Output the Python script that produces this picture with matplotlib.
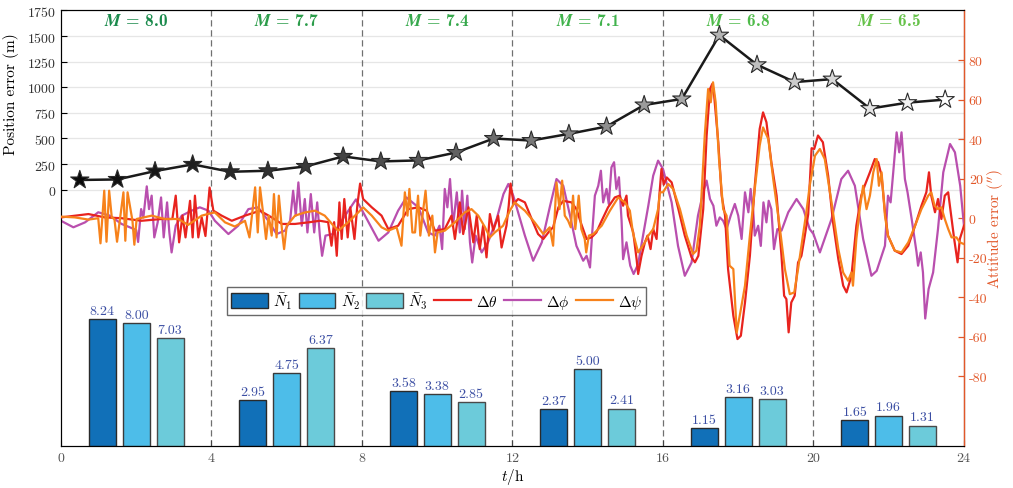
import numpy as np
import matplotlib
matplotlib.use('Agg')
import matplotlib.pyplot as plt
from matplotlib.patches import Patch
from matplotlib.lines import Line2D

plt.rcParams['font.family'] = 'serif'
plt.rcParams['font.serif'] = ['cmr10', 'DejaVu Serif']
plt.rcParams['mathtext.fontset'] = 'cm'
plt.rcParams['axes.unicode_minus'] = False
plt.rcParams['axes.formatter.use_mathtext'] = True

# position error (stars), one point per hour
t_star = np.arange(0.5, 24, 1.0)
pos_err = [95, 100, 182, 247, 175, 185, 227, 325, 276, 286, 363, 500,
           480, 545, 617, 827, 886, 1509, 1220, 1051, 1080, 792, 850, 880]

# mean counts per magnitude group
groups = [2, 6, 10, 14, 18, 22]
mags = ['8.0', '7.7', '7.4', '7.1', '6.8', '6.5']
N1 = [8.24, 2.95, 3.58, 2.37, 1.15, 1.65]
N2 = [8.00, 4.75, 3.38, 5.00, 3.16, 1.96]
N3 = [7.03, 6.37, 2.85, 2.41, 3.03, 1.31]

# attitude errors (arcsec)
theta_pts = [
    (0, 0.4), (0.73, 2.1), (1.17, 0.4), (1.61, 0), (2.14, -1.3), (2.67, -0.4), (2.96, -0.4),
    (3.05, 11.4), (3.14, -12.2), (3.23, 1.3), (3.31, -9.7), (3.43, 8.8), (3.50, -9.7),
    (3.56, 11.4), (3.65, -9.7), (3.74, 0.4), (3.84, -9.0), (3.95, 15.5), (4.05, 3.8),
    (4.27, 1.3), (4.54, -1.3), (4.89, 1.3), (5.29, 3.8), (5.60, 0.4), (5.87, -2.9),
    (6.22, -2.9), (6.57, -2.1), (6.88, -1.3), (7.10, -2.0), (7.19, -13.9), (7.26, -2.0),
    (7.33, -19.0), (7.40, 8.0), (7.46, -10.5), (7.53, 9.7), (7.62, -9.7), (7.69, 5.5),
    (7.80, -10.5), (7.88, 7.2), (7.95, 17.5), (8.03, 9.7), (8.26, 5.5), (8.52, 1.3),
    (8.70, -5.5), (8.96, -3.8), (9.23, 4.6), (9.50, 5.5), (9.72, 3.8), (9.94, -6.3),
    (10.20, -5.5), (10.38, 1.3), (10.47, -10.5), (10.60, 8.0), (10.69, -8.0), (10.83, 5.5),
    (10.96, -12.2), (11.05, 1.3), (11.13, -15.6), (11.22, -3.8), (11.31, -19.8), (11.40, 2.1),
    (11.49, -6.3), (11.62, 1.3), (11.71, -14.8), (11.84, -3.8), (11.90, 6.3), (11.95, 17.5),
    (12.03, 7.2), (12.15, 9.7), (12.33, 8.0), (12.51, -0.4), (12.68, -8.0), (12.82, -10.5),
    (12.99, -6.3), (13.08, -4.6), (13.22, 5.5), (13.35, 8.8), (13.57, 8.0), (13.70, 4.6),
    (13.83, -3.0), (13.97, -10.5), (14.10, -9.7), (14.23, -7.2), (14.37, -1.3), (14.54, 5.5),
    (14.72, 10.5), (14.85, 11.4), (14.94, 6.3), (15.03, 11.4), (15.07, 1.3), (15.21, -7.2),
    (15.30, -20.9), (15.34, -28.2), (15.43, -19.0), (15.52, -12.2), (15.59, -8.8),
    (15.67, -15.6), (15.74, -5.5), (15.83, -10.5), (15.90, 10.5), (15.96, 24.9), (16.02, 17.0),
    (16.10, 20.6), (16.23, 18.1), (16.41, 4.6), (16.58, -8.8), (16.76, -19.8), (16.85, -22.3),
    (16.94, -19.0), (17.07, 4.6), (17.16, 41.7), (17.25, 65.3), (17.31, 67.9), (17.36, 62.0),
    (17.47, 38.4), (17.56, 11.4), (17.65, 1.3), (17.73, -25.7), (17.87, -49.3), (17.98, -61.1),
    (18.07, -59.4), (18.18, -42.6), (18.31, -19.0), (18.44, 16.4), (18.57, 45.1), (18.66, 53.5),
    (18.75, 48.5), (18.88, 28.3), (19.02, 11.4), (19.15, -19.0), (19.22, -39.2), (19.28, -40.9),
    (19.34, -57.7), (19.41, -42.6), (19.50, -39.2), (19.59, -22.4), (19.68, -19.0),
    (19.77, -8.8), (19.86, 2.0), (19.95, 35.4), (20.02, 35.0), (20.12, 41.8), (20.25, 38.4),
    (20.39, 21.5), (20.52, -2.1), (20.66, -20.6), (20.79, -34.1), (20.88, -37.5), (21.01, -29.1),
    (21.14, -3.8), (21.27, 11.4), (21.36, 16.4), (21.50, 23.2), (21.63, 29.9), (21.72, 28.3),
    (21.81, 21.5), (21.90, 3.0), (21.98, -8.8), (22.16, -16.4), (22.34, -18.1), (22.52, -13.9),
    (22.70, -3.8), (22.87, 6.3), (23.00, 13.1), (23.07, 23.2), (23.13, 11.4), (23.23, 3.0),
    (23.31, 9.7), (23.40, -0.4), (23.49, 11.4), (23.58, 13.1), (23.67, -0.4), (23.74, -10.5),
    (23.83, -22.3), (23.89, -10.5), (24.0, -3.8)]

phi_pts = [
    (0, -1.3), (0.33, -4.6), (0.64, -2.1), (0.99, 3.0), (1.30, 1.3), (1.61, -2.9), (1.83, -4.6),
    (2.0, -6.0), (2.05, -12.0), (2.13, 4.6), (2.19, 0.4), (2.28, 16.1), (2.34, 4.6), (2.41, 11.4),
    (2.48, -9.7), (2.57, -2.1), (2.66, 10.5), (2.73, -9.7), (2.82, 8.0), (2.88, -7.2),
    (2.94, -17.3), (3.05, -3.8), (3.21, 1.3), (3.47, 3.8), (3.69, 5.5), (3.92, 3.8), (4.09, -1.3),
    (4.45, -8.0), (4.71, -3.8), (4.98, 4.6), (5.24, 5.5), (5.51, -1.3), (5.73, -8.0), (5.95, -6.3),
    (6.09, -1.3), (6.17, 13.9), (6.24, 1.3), (6.31, 18.1), (6.40, -3.8), (6.48, 9.7), (6.55, -7.2),
    (6.64, 12.2), (6.73, -7.2), (6.81, 8.0), (6.88, -8.8), (6.94, -19.0), (7.03, -8.8),
    (7.23, -8.0), (7.55, 1.3), (7.84, 9.5), (8.08, 1.3), (8.44, -11.4), (8.70, -7.2), (8.96, 3.8),
    (9.18, 10.5), (9.50, 5.5), (9.76, -7.2), (9.94, -8.8), (10.06, -3.8), (10.13, -15.6),
    (10.20, 14.8), (10.27, 5.5), (10.34, 19.8), (10.42, -3.8), (10.52, 13.1), (10.60, -7.2),
    (10.66, 13.9), (10.73, -5.5), (10.80, 11.4), (10.87, -12.2), (10.93, -22.4), (11.02, -8.8),
    (11.18, -17.3), (11.35, -12.2), (11.58, -0.4), (11.76, 12.2), (11.89, 17.3), (12.02, 11.4),
    (12.33, -8.8), (12.55, -21.5), (12.78, -12.2), (13.0, 6.3), (13.17, 19.8), (13.35, 16.4),
    (13.53, 1.3), (13.70, -14.0), (13.88, -21.5), (13.97, -19.0), (14.06, -24.9), (14.12, -7.2),
    (14.19, 11.4), (14.28, 16.4), (14.35, 24.0), (14.41, 8.0), (14.50, 14.8), (14.56, 7.2),
    (14.63, 25.7), (14.70, 28.3), (14.76, 14.8), (14.83, 20.7), (14.90, -1.3), (14.94, -20.7),
    (15.03, -12.2), (15.13, -24.0), (15.22, -28.2), (15.34, -23.2), (15.47, -8.8), (15.61, 6.3),
    (15.74, 21.5), (15.87, 29.1), (16.0, 24.9), (16.23, 8.0), (16.40, -14.0), (16.58, -29.1),
    (16.76, -22.4), (16.93, 1.3), (17.07, 13.1), (17.16, 19.0), (17.25, 9.7), (17.34, 6.3),
    (17.42, -3.8), (17.51, 0.4), (17.60, -1.3), (17.69, -5.5), (17.80, 1.3), (17.91, 7.2),
    (18.0, 1.3), (18.09, -10.5), (18.18, 13.1), (18.27, 3.0), (18.33, 14.8), (18.40, 3.0),
    (18.44, -8.8), (18.53, -3.8), (18.60, -14.0), (18.67, 8.0), (18.75, -2.1), (18.81, 8.8),
    (18.88, 4.6), (18.95, -15.6), (19.04, -5.5), (19.15, -6.3), (19.33, 3.0), (19.55, 9.7),
    (19.73, 4.6), (19.90, -5.5), (20.0, -8.0), (20.17, -17.3), (20.48, -0.4), (20.74, 19.8),
    (20.92, 24.0), (21.10, 16.4), (21.32, -10.5), (21.54, -29.1), (21.68, -26.6), (21.90, -13.9),
    (21.98, 11.4), (22.05, 8.0), (22.12, 23.2), (22.21, 43.4), (22.28, 33.3), (22.34, 43.4),
    (22.43, 19.8), (22.50, 13.1), (22.61, -0.4), (22.74, -17.3), (22.78, -24.0), (22.85, -17.3),
    (22.91, -27.4), (22.97, -50.7), (23.06, -35.8), (23.18, -27.4), (23.31, -5.4), (23.45, 23.2),
    (23.63, 37.5), (23.76, 33.3), (23.90, 16.4), (24.0, -3.8)]

psi_pts = [
    (0, 0.8), (0.37, 0.4), (0.73, -0.7), (0.99, 0), (1.05, -12.7), (1.15, 13.9), (1.21, -11.9),
    (1.28, 13.9), (1.35, 0.4), (1.42, -0.4), (1.49, -11.9), (1.66, 13.1), (1.71, -11.4),
    (1.77, 13.1), (1.90, -1.3), (1.95, -13.4), (2.01, -0.4), (2.41, 1.3), (2.76, -0.4),
    (3.12, -0.4), (3.38, -3.4), (3.74, 1.3), (4.0, 2.6), (4.09, 2.9), (4.36, -2.1), (4.62, -4.2),
    (4.89, -1.3), (5.01, -9.7), (5.16, 15.6), (5.23, -7.2), (5.29, 15.6), (5.38, 1.3),
    (5.45, -10.5), (5.52, 1.3), (5.60, -8.8), (5.66, 12.2), (5.73, -9.7), (5.79, 11.4),
    (5.88, -7.2), (5.93, -15.6), (6.0, -3.8), (6.22, 1.3), (6.48, 2.9), (6.75, 3.8), (7.01, 1.3),
    (7.28, -4.6), (7.37, -6.3), (7.63, -2.1), (7.90, 2.9), (8.03, 5.5), (8.26, 1.3), (8.52, -4.6),
    (8.70, -6.3), (8.92, -4.6), (9.05, -13.9), (9.14, 13.1), (9.21, 1.3), (9.26, 14.8),
    (9.34, -7.2), (9.41, -7.2), (9.49, 11.4), (9.55, -8.8), (9.63, 4.6), (9.69, 13.9),
    (9.78, -8.8), (9.87, 1.3), (9.94, -17.3), (10.01, -7.2), (10.20, -6.3), (10.47, -2.1),
    (10.73, 2.9), (10.91, 4.6), (11.09, 1.3), (11.27, -4.6), (11.40, -9.7), (11.53, -7.2),
    (11.75, -3.8), (11.93, 3.8), (12.06, 8.0), (12.33, 3.8), (12.59, -2.1), (12.82, -8.0),
    (12.99, -4.6), (13.08, -13.9), (13.17, 18.1), (13.25, 4.6), (13.32, 19.0), (13.39, 1.3),
    (13.48, -1.3), (13.55, -4.6), (13.61, 11.4), (13.67, -5.5), (13.76, 11.4), (13.83, -5.5),
    (13.92, -10.5), (13.96, -17.3), (14.03, -8.8), (14.15, -8.0), (14.37, -3.8), (14.59, 3.8),
    (14.81, 10.5), (14.99, 8.0), (15.12, 3.8), (15.20, -7.2), (15.34, -17.3), (15.52, -12.2),
    (15.61, -8.8), (15.74, -5.5), (15.87, 4.6), (15.92, 13.1), (16.0, 13.1), (16.14, 17.3),
    (16.27, 14.8), (16.45, 4.6), (16.63, -8.8), (16.80, -18.1), (16.89, -16.4), (16.98, -3.8),
    (17.11, 41.7), (17.20, 65.3), (17.27, 58.6), (17.33, 68.7), (17.40, 58.6), (17.49, 29.8),
    (17.60, 4.6), (17.69, 1.3), (17.77, -24.0), (17.87, -25.7), (17.96, -57.8), (18.04, -49.3),
    (18.18, -34.1), (18.31, -8.8), (18.44, 14.8), (18.57, 36.7), (18.66, 45.9), (18.80, 40.0),
    (18.93, 19.8), (19.11, -5.5), (19.24, -25.7), (19.37, -38.4), (19.49, -37.5), (19.59, -25.7),
    (19.68, -13.9), (19.81, 3.0), (19.90, 16.4), (20.04, 31.6), (20.17, 35.0), (20.30, 29.9),
    (20.48, 8.0), (20.66, -15.6), (20.79, -27.5), (20.92, -31.6), (21.01, -27.4), (21.05, -34.1),
    (21.14, -10.5), (21.23, 4.6), (21.32, 16.4), (21.41, 4.6), (21.50, 11.4), (21.59, 23.2),
    (21.68, 29.9), (21.74, 16.4), (21.81, 23.2), (21.90, 1.3), (21.98, -8.8), (22.16, -16.4),
    (22.34, -17.3), (22.52, -12.2), (22.70, -3.8), (22.87, 4.6), (23.05, 11.4), (23.13, 13.1),
    (23.22, 6.3), (23.31, 4.6), (23.40, 5.5), (23.49, -0.4), (23.58, -5.4), (23.67, -9.7),
    (23.80, -9.7), (23.89, -12.2), (24.0, -13.1)]

t_theta, d_theta = np.array(theta_pts).T
t_phi, d_phi = np.array(phi_pts).T
t_psi, d_psi = np.array(psi_pts).T

c_theta = '#e8231e'
c_phi = '#b94fae'
c_psi = '#f7821b'
c_right = '#e2582a'
bar_cols = ['#1170b8', '#4dbde9', '#6ccbda']
mag_cols = ['#1a8a4c', '#2b9c4a', '#36a84c', '#40b24c', '#4fbb4a', '#66c24a']

fig = plt.figure(figsize=(10.13, 4.89), dpi=100)
ax = fig.add_axes([0.0602, 0.0865, 0.8914, 0.89])
axb = ax.twinx()
axr = ax.twinx()

# left axis: position error
ax.set_xlim(0, 24)
ax.set_ylim(-2500, 1750)
ax.set_yticks(np.arange(0, 1751, 250))
ax.set_xticks(np.arange(0, 25, 4))
for yv in np.arange(0, 1751, 250):
    ax.axhline(yv, color='#e6e6e6', lw=0.9, zorder=0)
for xv in [4, 8, 12, 16, 20]:
    ax.axvline(xv, color='#707070', lw=0.9, ls=(0, (5, 3)), zorder=1)
ax.plot(t_star, pos_err, color='#1a1a1a', lw=1.8, zorder=3)
star_cols = plt.cm.gray(np.linspace(0.08, 1.0, len(t_star)) ** 1.3)
ax.scatter(t_star, pos_err, marker='*', s=190, c=star_cols, edgecolors='#2a2a2a',
           linewidths=0.8, zorder=4)
ax.set_ylabel('Position error (m)', fontsize=11)
ax.yaxis.set_label_coords(-0.047, 0.81)
ax.set_xlabel(r'$t/\mathrm{h}$', fontsize=11, labelpad=2)
ax.tick_params(axis='both', direction='in', labelsize=10, length=4, width=0.8)
ax.tick_params(axis='x', colors='#444444', labelcolor='#555555')
ax.tick_params(axis='y', labelcolor='#333333')
for g, m, c in zip(groups, mags, mag_cols):
    ax.text(g, 1655, r'$\mathbfit{M}$' + ' = ' + m, family=['cmb10', 'DejaVu Serif'],
            color=c, fontsize=12.5, ha='center', va='center')

# bars
w = 0.72
axb.bar(np.array(groups) - 0.9, N1, w, color=bar_cols[0], edgecolor='#2a2a2a', lw=1, zorder=2)
axb.bar(np.array(groups), N2, w, color=bar_cols[1], edgecolor='#3a3a3a', lw=1, zorder=2)
axb.bar(np.array(groups) + 0.9, N3, w, color=bar_cols[2], edgecolor='#4a4a4a', lw=1, zorder=2)
for off, vals in zip([-0.9, 0, 0.9], [N1, N2, N3]):
    for g, v in zip(groups, vals):
        axb.text(g + off, v + 0.15, f'{v:.2f}', ha='center', va='bottom',
                 fontsize=10, color='#3b4ea3')
axb.set_ylim(0, 28.4)
axb.set_yticks([])
axb.axis('off')

# right axis: attitude errors
axr.plot(t_theta, d_theta, color=c_theta, lw=1.6, zorder=3)
axr.plot(t_phi, d_phi, color=c_phi, lw=1.6, zorder=2)
axr.plot(t_psi, d_psi, color=c_psi, lw=1.6, zorder=4)
axr.set_ylim(-115, 105)
axr.set_yticks(np.arange(-80, 81, 20))
axr.set_yticklabels([str(v) for v in np.arange(-80, 81, 20)])
axr.tick_params(axis='y', direction='in', colors=c_right, labelsize=10, length=4, width=0.9)
axr.spines['right'].set_color(c_right)
axr.spines['right'].set_linewidth(1.0)
axr.set_ylabel("Attitude error ($''$)", color=c_right, fontsize=11)
axr.yaxis.set_label_coords(1.024, 0.5)

handles = [Patch(facecolor=bar_cols[0], edgecolor='#2a2a2a', label=r'$\bar{N}_1$'),
           Patch(facecolor=bar_cols[1], edgecolor='#3a3a3a', label=r'$\bar{N}_2$'),
           Patch(facecolor=bar_cols[2], edgecolor='#4a4a4a', label=r'$\bar{N}_3$'),
           Line2D([], [], color=c_theta, lw=1.6, label=r'$\Delta\theta$'),
           Line2D([], [], color=c_phi, lw=1.6, label=r'$\Delta\phi$'),
           Line2D([], [], color=c_psi, lw=1.6, label=r'$\Delta\psi$')]
leg = axr.legend(handles=handles, ncol=6, loc='center', bbox_to_anchor=(0.416, 0.333),
                 fontsize=11, frameon=True, fancybox=False, edgecolor='#444444',
                 handlelength=2.4, handleheight=1.1, columnspacing=0.4, handletextpad=0.35,
                 borderpad=0.25, borderaxespad=0)
leg.get_frame().set_linewidth(1.0)

for sp in ['left', 'top', 'bottom']:
    ax.spines[sp].set_color('#222222')

fig.savefig('out.png', dpi=100)
